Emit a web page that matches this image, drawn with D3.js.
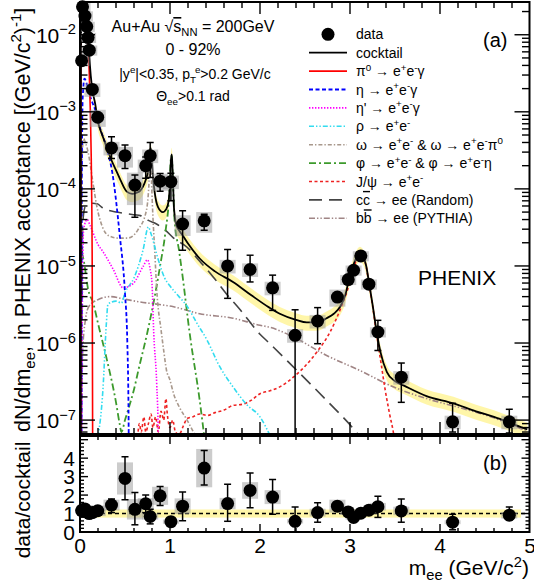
<!DOCTYPE html>
<html><head><meta charset="utf-8">
<script src="https://cdn.jsdelivr.net/npm/d3@7"></script>
<style>
body{margin:0;background:#fff}
svg{display:block}
text{font-family:"Liberation Sans",Arial,Helvetica,sans-serif;fill:#000}
</style>
</head><body>
<svg id="chart" width="534" height="584"></svg>
<script>
// ---------------- DATA ----------------
const dataMass  = [0.018,0.028,0.055,0.075,0.09,0.103,0.137,0.197,0.35,0.5,0.61,0.73,0.78,0.89,1.01,1.14,1.38,1.64,1.89,2.14,2.39,2.64,2.86,2.98,3.04,3.12,3.21,3.31,3.57,4.14,4.77];
const dataYield = [4.6e-3,0.023,0.0175,0.0128,0.0092,0.0063,1.95e-3,8.5e-4,3.4e-4,2.7e-4,1.12e-4,2.0e-4,2.7e-4,1.26e-4,1.24e-4,3.5e-5,3.85e-5,1.0e-5,9.0e-6,5.2e-6,1.26e-6,1.93e-6,3.95e-6,6.65e-6,8.8e-6,1.35e-5,5.8e-6,1.39e-6,3.6e-7,9.5e-8,9.5e-8];
const dataLo    = [4.3e-3,0.021,0.016,0.0118,0.0085,0.0058,1.8e-3,7.8e-4,2.48e-4,1.84e-4,4.3e-5,1.37e-4,1.4e-4,9.3e-5,7e-5,1.6e-5,2.9e-5,3.8e-6,6.2e-6,2.65e-6,1e-9,9.8e-7,3.5e-6,6.0e-6,8.0e-6,1.25e-5,5.2e-6,8.0e-7,1.7e-7,7e-8,6.8e-8];
const dataHi    = [4.9e-3,0.025,0.019,0.0138,0.0099,0.0068,2.1e-3,9.2e-4,4.73e-4,3.7e-4,1.51e-4,2.6e-4,4.0e-4,1.58e-4,1.6e-4,5.2e-5,4.7e-5,1.63e-5,1.38e-5,7.6e-6,2.7e-6,2.88e-6,4.5e-6,7.3e-6,9.6e-6,1.45e-5,6.5e-6,1.97e-6,5.5e-7,1.65e-7,1.38e-7];
const dataSys   = [0.15,0.15,0.15,0.15,0.15,0.15,0.2,0.25,0.2,0.3,0.45,0.2,0.2,0.25,0.2,0.3,0.3,0.2,0.2,0.2,0.2,0.2,0.25,0.15,0.15,0.15,0.15,0.15,0.2,0.2,0.2];

const ratioVal = [1.15,1.2,1.25,1.1,1.05,1.0,1.05,1.15,1.46,2.9,1.23,1.53,0.84,1.96,0.56,1.40,3.46,1.54,2.25,1.89,0.58,1.05,1.40,1.09,0.79,1.02,1.18,1.37,1.14,0.53,0.91];
const ratioLo  = [1.08,1.12,1.17,1.03,0.98,0.93,0.98,1.07,1.05,1.75,0.39,1.05,0.44,1.44,0.30,0.61,2.54,0.58,1.32,0.96,0.0,0.53,1.14,0.95,0.70,0.92,1.05,0.79,0.53,0.12,0.65];
const ratioHi  = [1.22,1.28,1.33,1.17,1.12,1.07,1.12,1.23,1.79,4.07,2.14,2.0,1.23,2.46,0.78,2.16,4.42,2.58,3.19,2.84,1.35,1.58,1.58,1.2,0.9,1.1,1.3,1.93,1.79,0.96,1.35];

const cocktailCurve = [[0.008,1e-9],[0.01,3e-3],[0.013,0.015],[0.02,0.028],[0.04,0.031],[0.06,0.03],[0.075,0.026],[0.085,0.015],[0.1,6.2e-3],[0.12,2.9e-3],[0.14,1.85e-3],[0.167,1.3e-3],[0.2,7.4e-4],[0.25,4.9e-4],[0.3,3.4e-4],[0.35,2.35e-4],[0.4,1.75e-4],[0.45,1.3e-4],[0.52,9.2e-5],[0.58,8.6e-5],[0.63,8.9e-5],[0.67,9.5e-5],[0.70,1.07e-4],[0.73,1.3e-4],[0.76,1.8e-4],[0.775,2.8e-4],[0.785,3.4e-4],[0.795,2.6e-4],[0.81,1.5e-4],[0.83,9e-5],[0.867,5.8e-5],[0.92,5.0e-5],[0.96,5.5e-5],[0.985,7e-5],[1.0,1.2e-4],[1.01,2.3e-4],[1.02,2.8e-4],[1.03,1.6e-4],[1.045,5.5e-5],[1.07,3.4e-5],[1.1,2.9e-5],[1.14,2.5e-5],[1.2,1.95e-5],[1.33,1.25e-5],[1.5,8.5e-6],[1.7,6.2e-6],[1.9,4.2e-6],[2.1,2.9e-6],[2.22,2.4e-6],[2.4,2.0e-6],[2.52,1.85e-6],[2.64,1.85e-6],[2.74,2.1e-6],[2.82,2.4e-6],[2.89,2.95e-6],[2.95,4.3e-6],[2.98,6.0e-6],[3.04,1.05e-5],[3.08,1.35e-5],[3.11,1.45e-5],[3.15,1.3e-5],[3.18,1.0e-5],[3.21,6.2e-6],[3.25,3.2e-6],[3.3,1.3e-6],[3.34,7.5e-7],[3.41,4.2e-7],[3.5,3.2e-7],[3.6,2.8e-7],[3.85,2.05e-7],[4.15,1.65e-7],[4.4,1.3e-7],[4.6,1.1e-7],[4.9,8.1e-8],[4.97,7.6e-8]];
const pi0Curve   = [[0.006,1e-9],[0.01,4e-3],[0.013,0.015],[0.02,0.028],[0.04,0.031],[0.06,0.03],[0.074,0.027],[0.085,0.012],[0.1,4e-3],[0.115,1e-3],[0.125,2.5e-4],[0.13,8e-5],[0.135,1.5e-5],[0.14,1e-7],[0.142,1e-9]];
const etaCurve   = [[0.015,1e-9],[0.02,1e-4],[0.03,1.5e-3],[0.05,2.7e-3],[0.08,2.2e-3],[0.12,1.5e-3],[0.17,1.05e-3],[0.22,6.3e-4],[0.3,3.3e-4],[0.36,1.6e-4],[0.44,2.6e-5],[0.5,4.4e-6],[0.525,1.1e-6],[0.54,1e-7],[0.547,1e-9]];
const etapCurve  = [[0.018,1e-8],[0.025,2e-6],[0.04,3e-5],[0.08,4e-5],[0.11,3.4e-5],[0.2,1.9e-5],[0.26,1.5e-5],[0.37,9e-6],[0.48,5.2e-6],[0.59,5.9e-6],[0.7,9.8e-6],[0.75,1.2e-5],[0.78,9e-6],[0.8,5.9e-6],[0.82,1.3e-6],[0.852,3e-7],[0.87,6e-8],[0.88,1e-9]];
const rhoCurve   = [[0.2,6e-8],[0.255,2.5e-7],[0.293,1.8e-6],[0.311,3.2e-6],[0.4,3.5e-6],[0.46,3.3e-6],[0.5,4.5e-6],[0.6,7e-6],[0.7,1.6e-5],[0.76,3.2e-5],[0.79,2.6e-5],[0.87,1.2e-5],[0.94,7e-6],[1.0,5.5e-6],[1.1,4e-6],[1.19,3e-6],[1.3,1.8e-6],[1.41,1.1e-6],[1.55,5e-7],[1.7,2.7e-7],[1.85,1.6e-7],[2.0,1.1e-7],[2.12,6e-8]];
const omegaCurve = [[0.015,1e-7],[0.02,2e-4],[0.04,4.5e-4],[0.06,4e-4],[0.09,3e-4],[0.144,1.2e-4],[0.186,6e-5],[0.25,3.2e-5],[0.31,2.5e-5],[0.42,2.3e-5],[0.53,2.3e-5],[0.64,2.9e-5],[0.737,5.2e-5],[0.765,1.1e-4],[0.782,3.1e-4],[0.795,1.2e-4],[0.81,4.4e-5],[0.83,1.6e-5],[0.852,5e-6],[0.9,1.5e-6],[0.93,8e-7],[0.96,4.5e-7],[1.0,3.3e-7],[1.04,2.2e-7],[1.1,1.5e-7],[1.19,1e-7],[1.26,7e-8],[1.33,5e-8]];
const phiCurve   = [[0.02,1.5e-5],[0.04,1.2e-5],[0.09,5e-6],[0.15,3.2e-6],[0.2,1.8e-6],[0.3,6e-7],[0.4,1.7e-7],[0.44,9e-8],[0.46,7e-8],[0.5,1e-7],[0.53,1.3e-7],[0.6,2.5e-7],[0.65,4.5e-7],[0.75,1.4e-6],[0.83,4e-6],[0.89,1e-5],[0.95,2.8e-5],[0.99,8e-5],[1.01,2.5e-4],[1.02,2.7e-4],[1.03,1.5e-4],[1.05,4e-5],[1.1,1.6e-5],[1.13,9e-6],[1.22,1.3e-6],[1.33,1.8e-7],[1.39,5e-8]];
const jpsiCurve  = [[0.64,6e-8],[0.66,9e-8],[0.68,7e-8],[0.71,1.1e-7],[0.73,7e-8],[0.76,9e-8],[0.79,1.2e-7],[0.81,8e-8],[0.84,1.1e-7],[0.87,7e-8],[0.9,1.3e-7],[0.93,1.0e-7],[0.955,1.9e-7],[0.97,1.2e-7],[1.0,8e-8],[1.03,1.0e-7],[1.06,7e-8],[1.1,6.5e-8],[1.15,8.5e-8],[1.19,1.05e-7],[1.25,1.1e-7],[1.33,1.2e-7],[1.42,1.15e-7],[1.5,1.25e-7],[1.6,1.35e-7],[1.7,1.55e-7],[1.8,1.6e-7],[1.9,1.8e-7],[2.0,2.2e-7],[2.11,2.4e-7],[2.22,2.7e-7],[2.37,3.6e-7],[2.5,5e-7],[2.63,7.6e-7],[2.78,1.4e-6],[2.89,2.7e-6],[2.97,4.8e-6],[3.04,9e-6],[3.08,1.3e-5],[3.11,1.43e-5],[3.15,1.28e-5],[3.18,9.8e-6],[3.21,6e-6],[3.25,3.1e-6],[3.3,1.2e-6],[3.35,5e-7],[3.39,2.5e-7],[3.44,1.2e-7],[3.49,6e-8],[3.52,3e-8]];
const ccCurve    = [[0.02,2e-6],[0.03,3.5e-5],[0.056,5.8e-5],[0.09,6.2e-5],[0.14,6.5e-5],[0.19,6.4e-5],[0.25,5.7e-5],[0.31,5.3e-5],[0.41,5.0e-5],[0.5,4.8e-5],[0.61,4.6e-5],[0.67,4.5e-5],[0.76,3.9e-5],[0.85,3.5e-5],[0.95,2.9e-5],[1.04,2.3e-5],[1.19,1.75e-5],[1.33,1.15e-5],[1.48,7.2e-6],[1.63,4.3e-6],[1.78,2.7e-6],[2.0,1.3e-6],[2.11,9.8e-7],[2.37,4.9e-7],[2.74,1.8e-7],[3.07,7e-8],[3.2,4.5e-8]];
const bbCurve    = [[0.015,5e-8],[0.03,8e-7],[0.06,2e-6],[0.1,3e-6],[0.19,3.6e-6],[0.33,4e-6],[0.5,3.7e-6],[0.67,3.4e-6],[0.85,3.2e-6],[1.04,2.95e-6],[1.33,2.4e-6],[1.7,2.1e-6],[2.0,1.7e-6],[2.11,1.6e-6],[2.37,1.2e-6],[2.74,6.9e-7],[3.11,4.4e-7],[3.48,2.7e-7],[3.85,1.9e-7],[4.22,1.45e-7],[4.59,1.08e-7],[4.89,7.8e-8],[4.97,7.3e-8]];
const cocktailSysFrac = 0.22;

const legendLabels = ["data","cocktail","π^{0} → e^{+}e^{-}γ","η → e^{+}e^{-}γ","η' → e^{+}e^{-}γ","ρ → e^{+}e^{-}","ω → e^{+}e^{-} & ω → e^{+}e^{-}π^{0}","φ → e^{+}e^{-} & φ → e^{+}e^{-}η","J/ψ → e^{+}e^{-}","c~{c} → ee (Random)","b~{b} → ee (PYTHIA)"];
const xTickLabels = ["0","1","2","3","4","5"];
const yTickExponents = ["−7","−6","−5","−4","−3","−2"];
const ratioTickLabels = ["0","1","2","3","4"];

// ---------------- STYLES ----------------
const curveStyles = {
  cocktail:{color:"#000000", w:1.8, dash:null},
  pi0:{color:"#ff0000", w:1.6, dash:null},
  eta:{color:"#0000ff", w:1.8, dash:"4,2.5"},
  etap:{color:"#ff00ff", w:1.6, dash:"1.4,1.6"},
  rho:{color:"#33dcef", w:1.6, dash:"5,2,1.4,2,1.4,2"},
  omega:{color:"#a8988c", w:1.6, dash:"4,2,1.4,2"},
  phi:{color:"#3c9a2c", w:1.8, dash:"7,3,2,3"},
  jpsi:{color:"#ee2222", w:1.6, dash:"3,2.5"},
  cc:{color:"#444444", w:1.6, dash:"13,7"},
  bb:{color:"#a08585", w:1.6, dash:"6,2,1.4,2,1.4,2"}
};
const curveList = [["bb",bbCurve],["cc",ccCurve],["jpsi",jpsiCurve],["phi",phiCurve],["omega",omegaCurve],["rho",rhoCurve],["etap",etapCurve],["eta",etaCurve],["pi0",pi0Curve],["cocktail",cocktailCurve]];
const legendKeys = ["data","cocktail","pi0","eta","etap","rho","omega","phi","jpsi","cc","bb"];

// ---------------- LAYOUT ----------------
const L = 80, R = 529.5;
const topY0 = 2, topY1 = 434, ratY0 = 436, ratY1 = 532;
const x = d3.scaleLinear().domain([0,5]).range([80,530]);
const yT = d3.scaleLog().domain([6.6e-8,0.0266]).range([topY1,topY0]);
const yR = d3.scaleLinear().domain([0,5.2]).range([ratY1,ratY0]);
const FONT = 21;

const svg = d3.select("#chart");
svg.append("rect").attr("width",534).attr("height",584).attr("fill","#fff");
const defs = svg.append("defs");
defs.append("clipPath").attr("id","clipTop").append("rect").attr("x",L).attr("y",topY0).attr("width",R-L).attr("height",topY1-topY0);
defs.append("clipPath").attr("id","clipRat").append("rect").attr("x",L).attr("y",ratY0).attr("width",R-L).attr("height",ratY1-ratY0);

function rich(sel, str, fs){
  const re = /([_^~])\{([^}]*)\}|([^_^~]+)/g;
  let m, cur = 0;
  while((m = re.exec(str))){
    const mode = m[1] || "";
    const t = m[1] ? m[2] : m[3];
    const target = mode==="^" ? -fs*0.4 : mode==="_" ? fs*0.25 : 0;
    const ts = sel.append("tspan").text(t).attr("dy", (target-cur).toFixed(2));
    if(mode==="^"||mode==="_") ts.attr("font-size", (fs*0.7).toFixed(1));
    if(mode==="~") ts.style("text-decoration","overline");
    cur = target;
  }
  return sel;
}

// ---------------- TOP PANEL ----------------
const gTop = svg.append("g").attr("clip-path","url(#clipTop)");
const band = d3.area().x(d=>x(d[0])).y0(d=>yT(Math.max(d[1]*(1-cocktailSysFrac),1e-12))).y1(d=>yT(d[1]*(1+cocktailSysFrac))).curve(d3.curveMonotoneX);
gTop.append("path").datum(cocktailCurve.filter(d=>d[0]>0.15)).attr("d",band).attr("fill","#fff59a").attr("opacity",0.85);

const line = d3.line().x(d=>x(d[0])).y(d=>yT(d[1])).curve(d3.curveMonotoneX);
curveList.forEach(([k,arr])=>{
  const s = curveStyles[k];
  gTop.append("path").datum(arr).attr("d",line).attr("fill","none")
    .attr("stroke",s.color).attr("stroke-width",s.w)
    .attr("stroke-dasharray",s.dash).attr("stroke-linejoin","round");
});

const BW = 8, CAP = 3.5, MR = 6.5;
gTop.selectAll("rect.sys").data(dataMass).enter().append("rect")
  .attr("x",(d)=>x(d)-BW).attr("width",2*BW)
  .attr("y",(d,i)=>yT(dataYield[i]*(1+dataSys[i])))
  .attr("height",(d,i)=>yT(dataYield[i]*(1-dataSys[i]))-yT(dataYield[i]*(1+dataSys[i])))
  .attr("fill","#9a9a9a").attr("opacity",0.5);
dataMass.forEach((m,i)=>{
  const cx = x(m), y1 = yT(dataLo[i]), y2 = yT(dataHi[i]);
  gTop.append("line").attr("x1",cx).attr("x2",cx).attr("y1",y1).attr("y2",y2).attr("stroke","#000").attr("stroke-width",1.5);
  [y1,y2].forEach(yy=>gTop.append("line").attr("x1",cx-CAP).attr("x2",cx+CAP).attr("y1",yy).attr("y2",yy).attr("stroke","#000").attr("stroke-width",1.5));
});
svg.append("g").selectAll("circle").data(dataMass).enter().append("circle")
  .attr("cx",d=>x(d)).attr("cy",(d,i)=>yT(dataYield[i])).attr("r",MR).attr("fill","#000");

const axT = svg.append("g").attr("stroke","#000");
axT.append("rect").attr("x",L).attr("y",topY0).attr("width",R-L).attr("height",topY1-topY0).attr("fill","none").attr("stroke-width",2);
for(let e=-8;e<=-1;e++){
  for(let k=1;k<=9;k++){
    const v = k*Math.pow(10,e);
    if(v<6.6e-8||v>0.0266) continue;
    const len = k===1?15:7.5, yy = yT(v);
    axT.append("line").attr("x1",L).attr("x2",L+len).attr("y1",yy).attr("y2",yy).attr("stroke-width",1.4);
    axT.append("line").attr("x1",R).attr("x2",R-len).attr("y1",yy).attr("y2",yy).attr("stroke-width",1.4);
  }
}
for(let t=0;t<=25;t++){
  const v=t*0.2, xx=x(v), len = t%5===0?12:6;
  if(xx>R) continue;
  axT.append("line").attr("x1",xx).attr("x2",xx).attr("y1",topY1).attr("y2",topY1-len).attr("stroke-width",1.4);
  axT.append("line").attr("x1",xx).attr("x2",xx).attr("y1",topY0).attr("y2",topY0+len).attr("stroke-width",1.4);
}
yTickExponents.forEach((ex,i)=>{
  const v = Math.pow(10,-7+i);
  const t = svg.append("text").attr("x",76).attr("y",yT(v)+8).attr("text-anchor","end").attr("font-size",FONT);
  rich(t,"10^{"+ex+"}",FONT);
});

// ---------------- RATIO PANEL ----------------
const gR = svg.append("g").attr("clip-path","url(#clipRat)");
gR.append("rect").attr("x",x(0.02)).attr("width",x(4.9)-x(0.02)).attr("y",yR(1+cocktailSysFrac)).attr("height",yR(1-cocktailSysFrac)-yR(1+cocktailSysFrac)).attr("fill","#fff59a").attr("opacity",0.85);
gR.append("line").attr("x1",L).attr("x2",R).attr("y1",yR(1)).attr("y2",yR(1)).attr("stroke","#000").attr("stroke-width",1.5).attr("stroke-dasharray","4,3");
gR.selectAll("rect.sys").data(dataMass).enter().append("rect")
  .attr("x",d=>x(d)-BW).attr("width",2*BW)
  .attr("y",(d,i)=>yR(ratioVal[i]*(1+dataSys[i])))
  .attr("height",(d,i)=>yR(ratioVal[i]*(1-dataSys[i]))-yR(ratioVal[i]*(1+dataSys[i])))
  .attr("fill","#9a9a9a").attr("opacity",0.5);
dataMass.forEach((m,i)=>{
  const cx=x(m), y1=yR(ratioLo[i]), y2=yR(ratioHi[i]);
  gR.append("line").attr("x1",cx).attr("x2",cx).attr("y1",y1).attr("y2",y2).attr("stroke","#000").attr("stroke-width",1.5);
  [y1,y2].forEach(yy=>gR.append("line").attr("x1",cx-CAP).attr("x2",cx+CAP).attr("y1",yy).attr("y2",yy).attr("stroke","#000").attr("stroke-width",1.5));
});
svg.append("g").selectAll("circle").data(dataMass).enter().append("circle")
  .attr("cx",d=>x(d)).attr("cy",(d,i)=>yR(ratioVal[i])).attr("r",MR).attr("fill","#000");

const axR = svg.append("g").attr("stroke","#000");
axR.append("rect").attr("x",L).attr("y",ratY0).attr("width",R-L).attr("height",ratY1-ratY0).attr("fill","none").attr("stroke-width",2);
for(let t=0;t<=26;t++){
  const v=t*0.2, yy=yR(v), len = t%5===0?8:4;
  if(yy<ratY0) continue;
  axR.append("line").attr("x1",L).attr("x2",L+len).attr("y1",yy).attr("y2",yy).attr("stroke-width",1.4);
  axR.append("line").attr("x1",R).attr("x2",R-len).attr("y1",yy).attr("y2",yy).attr("stroke-width",1.4);
}
for(let t=0;t<=25;t++){
  const v=t*0.2, xx=x(v), len = t%5===0?8:4;
  if(xx>R) continue;
  axR.append("line").attr("x1",xx).attr("x2",xx).attr("y1",ratY1).attr("y2",ratY1-len).attr("stroke-width",1.4);
  axR.append("line").attr("x1",xx).attr("x2",xx).attr("y1",ratY0).attr("y2",ratY0+len).attr("stroke-width",1.4);
}
ratioTickLabels.forEach((s,i)=>{
  svg.append("text").attr("x",75).attr("y",yR(i)+7.5).attr("text-anchor","end").attr("font-size",FONT).text(s);
});
xTickLabels.forEach((s,i)=>{
  svg.append("text").attr("x",x(i)).attr("y",553).attr("text-anchor","middle").attr("font-size",FONT).text(s);
});

// ---------------- TITLES ----------------
rich(svg.append("text").attr("transform","translate(30,432) rotate(-90)").attr("font-size",21.5), "dN/dm_{ee}, in PHENIX acceptance [(GeV/c^{2})^{-1}]", 21.5);
rich(svg.append("text").attr("transform","translate(30,500) rotate(-90)").attr("text-anchor","middle").attr("font-size",FONT), "data/cocktail", FONT);
rich(svg.append("text").attr("x",529).attr("y",575).attr("text-anchor","end").attr("font-size",FONT), "m_{ee} (GeV/c^{2})", FONT);

rich(svg.append("text").attr("x",193).attr("y",32).attr("text-anchor","middle").attr("font-size",16), "Au+Au √~{s}_{NN} = 200GeV", 16);
rich(svg.append("text").attr("x",193).attr("y",55).attr("text-anchor","middle").attr("font-size",16), "0 - 92%", 16);
rich(svg.append("text").attr("x",195).attr("y",79).attr("text-anchor","middle").attr("font-size",14), "|y^{e}|<0.35, p_{T}^{e}>0.2 GeV/c", 14);
rich(svg.append("text").attr("x",193).attr("y",101).attr("text-anchor","middle").attr("font-size",14), "Θ_{ee}>0.1 rad", 14);

svg.append("text").attr("x",483).attr("y",47).attr("font-size",20).text("(a)");
svg.append("text").attr("x",483).attr("y",470).attr("font-size",20).text("(b)");
svg.append("text").attr("x",418).attr("y",285).attr("font-size",21).text("PHENIX");

// ---------------- LEGEND ----------------
const lg = svg.append("g");
legendKeys.forEach((k,i)=>{
  const yy = 34.3 + i*18.4;
  if(k==="data"){
    lg.append("circle").attr("cx",328).attr("cy",yy).attr("r",MR).attr("fill","#000");
  } else {
    const s = curveStyles[k];
    lg.append("line").attr("x1",309).attr("x2",347).attr("y1",yy).attr("y2",yy)
      .attr("stroke",s.color).attr("stroke-width",s.w).attr("stroke-dasharray",s.dash);
  }
  rich(lg.append("text").attr("x",356).attr("y",yy+5).attr("font-size",14), legendLabels[i], 14);
});
</script>
</body></html>
